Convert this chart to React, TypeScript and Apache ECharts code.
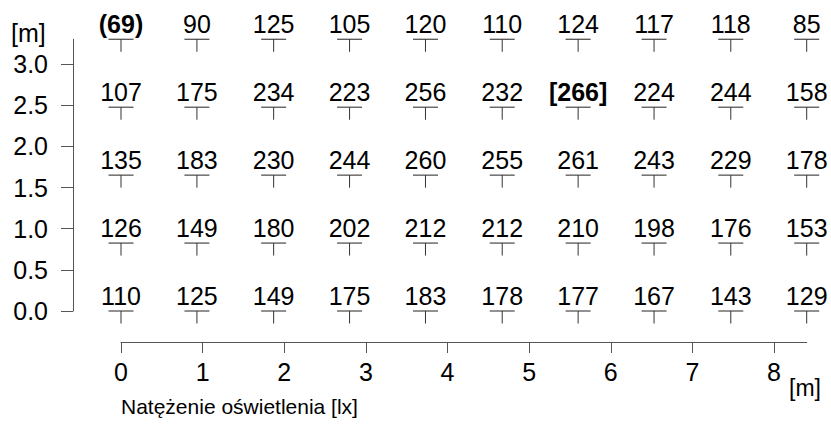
import React, { useEffect, useRef } from "react";
import * as echarts from "echarts";

const FONT = "'Liberation Sans', Arial, Helvetica, sans-serif";

// measurement point positions [m]
const xPositions = [0, 0.93, 1.87, 2.8, 3.73, 4.67, 5.6, 6.53, 7.47, 8.4];
const yPositions = [0, 0.825, 1.65, 2.475, 3.3];

// illuminance values [lx], rows from bottom (y = 0) to top (y = 3.3)
const row0 = [110, 125, 149, 175, 183, 178, 177, 167, 143, 129];
const row1 = [126, 149, 180, 202, 212, 212, 210, 198, 176, 153];
const row2 = [135, 183, 230, 244, 260, 255, 261, 243, 229, 178];
const row3 = [107, 175, 234, 223, 256, 232, 266, 224, 244, 158];
const row4 = [69, 90, 125, 105, 120, 110, 124, 117, 118, 85];
const rows = [row0, row1, row2, row3, row4];

const xTicks = [0, 1, 2, 3, 4, 5, 6, 7, 8];
const yTicks = [0, 0.5, 1, 1.5, 2, 2.5, 3];

const axisTitle = "Natężenie oświetlenia [lx]";
const unitLabel = "[m]";

export default function App() {
  const ref = useRef<HTMLDivElement>(null);

  useEffect(() => {
    if (!ref.current) return;
    const chart = echarts.init(ref.current, undefined, { renderer: "svg" });

    const all = rows.flat();
    const minVal = Math.min(...all);
    const maxVal = Math.max(...all);

    const data: number[][] = [];
    rows.forEach((row, j) => {
      row.forEach((v, i) => {
        data.push([xPositions[i], yPositions[j], v]);
      });
    });

    chart.setOption({
      animation: false,
      backgroundColor: "#fff",
      textStyle: { fontFamily: FONT },
      grid: { left: 121, right: 24.3, top: 39.3, bottom: 121, containLabel: false },
      xAxis: {
        type: "value",
        min: 0,
        max: 8.4,
        offset: 31,
        splitLine: { show: false },
        axisLine: { show: true, onZero: false, lineStyle: { color: "#555", width: 1 } },
        axisTick: { show: true, length: 11, customValues: xTicks, lineStyle: { color: "#555" } },
        axisLabel: {
          customValues: xTicks,
          fontSize: 25,
          color: "#000",
          fontFamily: FONT,
          margin: 17,
        },
      },
      yAxis: {
        type: "value",
        min: 0,
        max: 3.3,
        offset: 48,
        splitLine: { show: false },
        axisLine: { show: true, onZero: false, lineStyle: { color: "#555", width: 1 } },
        axisTick: { show: true, length: 12, customValues: yTicks, lineStyle: { color: "#555" } },
        axisLabel: {
          customValues: yTicks,
          fontSize: 25,
          color: "#000",
          fontFamily: FONT,
          margin: 25,
          formatter: (v: number) => v.toFixed(1),
        },
      },
      graphic: [
        {
          type: "text",
          left: 11,
          top: 20,
          style: { text: unitLabel, fontSize: 25, fill: "#000", fontFamily: FONT },
        },
        {
          type: "text",
          left: 789,
          top: 376,
          style: { text: unitLabel, fontSize: 23, fill: "#000", fontFamily: FONT },
        },
        {
          type: "text",
          left: 121,
          top: 396,
          style: { text: axisTitle, fontSize: 21, fill: "#000", fontFamily: FONT },
        },
      ],
      series: [
        {
          type: "custom",
          clip: false,
          data,
          renderItem: (params: any, api: any) => {
            const x = api.value(0);
            const y = api.value(1);
            const v = api.value(2);
            const p = api.coord([x, y]);
            const isMin = v === minVal;
            const isMax = v === maxVal;
            const txt = isMin ? `(${v})` : isMax ? `[${v}]` : `${v}`;
            return {
              type: "group",
              children: [
                {
                  type: "line",
                  shape: { x1: p[0] - 12.5, y1: p[1], x2: p[0] + 12.5, y2: p[1] },
                  style: { stroke: "#555", lineWidth: 1.3 },
                },
                {
                  type: "line",
                  shape: { x1: p[0], y1: p[1], x2: p[0], y2: p[1] + 12.5 },
                  style: { stroke: "#333", lineWidth: 1 },
                },
                {
                  type: "text",
                  x: p[0],
                  y: p[1] - 3,
                  style: {
                    text: txt,
                    fontSize: 25,
                    fontWeight: isMin || isMax ? "bold" : "normal",
                    fontFamily: FONT,
                    fill: "#000",
                    align: "center",
                    verticalAlign: "bottom",
                  },
                },
              ],
            };
          },
        },
      ],
    });

    return () => chart.dispose();
  }, []);

  return (
    <div
      ref={ref}
      style={{ position: "fixed", left: 0, top: 0, width: 831, height: 432 }}
    />
  );
}
